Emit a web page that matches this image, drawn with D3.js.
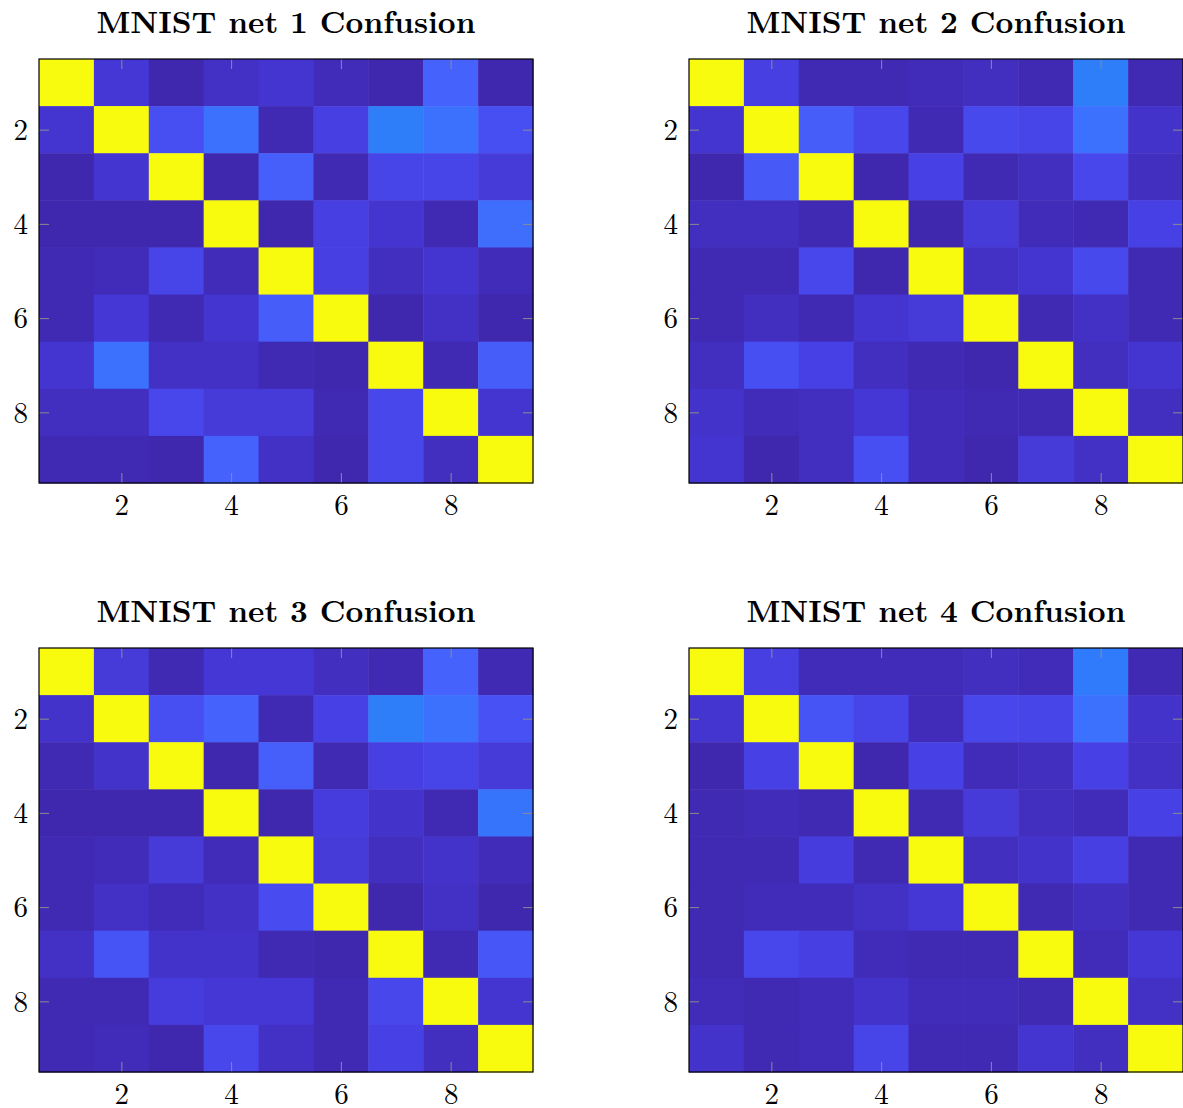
<!DOCTYPE html>
<meta charset="utf-8">

<!-- Load d3.js -->
<script src="https://d3js.org/d3.v7.min.js"></script>

<style>
  body { margin: 0; background: #fff; }
  text { font-family: "Latin Modern Roman", "CMU Serif", "Liberation Serif", serif; }
</style>

<div id="confusion"></div>

<script>

  // class labels on both axes (digits 1..9) and the ticks that are labelled
  var classes = [1, 2, 3, 4, 5, 6, 7, 8, 9];
  var tickValues = [2, 4, 6, 8];
  var titles = ["MNIST net 1 Confusion", "MNIST net 2 Confusion",
                "MNIST net 3 Confusion", "MNIST net 4 Confusion"];

  // normalised confusion values, row = true class, column = predicted class
  var net1 = [
    [1.00, 0.08, 0.01, 0.05, 0.07, 0.03, 0.01, 0.24, 0.01],
    [0.07, 1.00, 0.17, 0.29, 0.02, 0.11, 0.33, 0.29, 0.17],
    [0.01, 0.07, 1.00, 0.01, 0.23, 0.02, 0.13, 0.13, 0.09],
    [0.01, 0.01, 0.01, 1.00, 0.01, 0.11, 0.07, 0.02, 0.28],
    [0.02, 0.03, 0.13, 0.03, 1.00, 0.11, 0.04, 0.07, 0.03],
    [0.02, 0.08, 0.02, 0.07, 0.22, 1.00, 0.01, 0.05, 0.01],
    [0.07, 0.29, 0.05, 0.05, 0.02, 0.01, 1.00, 0.02, 0.22],
    [0.04, 0.04, 0.14, 0.09, 0.09, 0.02, 0.14, 1.00, 0.07],
    [0.02, 0.02, 0.01, 0.24, 0.05, 0.01, 0.14, 0.04, 1.00]
  ];
  var net2 = [
    [1.00, 0.11, 0.02, 0.02, 0.03, 0.04, 0.02, 0.33, 0.02],
    [0.07, 1.00, 0.22, 0.14, 0.02, 0.15, 0.13, 0.29, 0.06],
    [0.01, 0.21, 1.00, 0.01, 0.12, 0.02, 0.04, 0.14, 0.04],
    [0.04, 0.04, 0.02, 1.00, 0.01, 0.09, 0.03, 0.02, 0.12],
    [0.02, 0.02, 0.14, 0.01, 1.00, 0.05, 0.07, 0.15, 0.02],
    [0.02, 0.04, 0.02, 0.07, 0.09, 1.00, 0.02, 0.05, 0.02],
    [0.04, 0.17, 0.12, 0.04, 0.02, 0.01, 1.00, 0.04, 0.07],
    [0.06, 0.03, 0.04, 0.08, 0.03, 0.02, 0.02, 1.00, 0.04],
    [0.07, 0.01, 0.04, 0.17, 0.03, 0.01, 0.09, 0.05, 1.00]
  ];
  var net3 = [
    [1.00, 0.09, 0.02, 0.08, 0.08, 0.04, 0.02, 0.24, 0.02],
    [0.06, 1.00, 0.17, 0.24, 0.02, 0.12, 0.33, 0.29, 0.18],
    [0.02, 0.06, 1.00, 0.01, 0.23, 0.02, 0.11, 0.13, 0.09],
    [0.01, 0.01, 0.01, 1.00, 0.01, 0.10, 0.06, 0.02, 0.30],
    [0.02, 0.03, 0.09, 0.03, 1.00, 0.09, 0.04, 0.06, 0.03],
    [0.02, 0.05, 0.03, 0.05, 0.16, 1.00, 0.01, 0.05, 0.01],
    [0.05, 0.19, 0.06, 0.06, 0.02, 0.01, 1.00, 0.02, 0.20],
    [0.02, 0.02, 0.10, 0.08, 0.08, 0.02, 0.14, 1.00, 0.07],
    [0.02, 0.03, 0.01, 0.14, 0.05, 0.02, 0.12, 0.04, 1.00]
  ];
  var net4 = [
    [1.00, 0.11, 0.03, 0.03, 0.03, 0.04, 0.03, 0.32, 0.02],
    [0.07, 1.00, 0.19, 0.13, 0.03, 0.14, 0.13, 0.29, 0.06],
    [0.01, 0.12, 1.00, 0.01, 0.12, 0.03, 0.04, 0.12, 0.05],
    [0.02, 0.03, 0.02, 1.00, 0.02, 0.09, 0.04, 0.03, 0.12],
    [0.02, 0.02, 0.10, 0.02, 1.00, 0.04, 0.06, 0.11, 0.02],
    [0.02, 0.03, 0.03, 0.05, 0.08, 1.00, 0.02, 0.04, 0.02],
    [0.02, 0.14, 0.11, 0.03, 0.02, 0.02, 1.00, 0.03, 0.08],
    [0.03, 0.02, 0.03, 0.06, 0.03, 0.03, 0.02, 1.00, 0.05],
    [0.06, 0.02, 0.03, 0.13, 0.02, 0.02, 0.07, 0.04, 1.00]
  ];
  var matrices = [net1, net2, net3, net4];

  // parula-like colormap
  var parulaStops = [0, 0.04, 0.08, 0.12, 0.16, 0.20, 0.24, 0.28, 0.32, 0.40, 0.50, 0.60, 0.70, 0.80, 0.90, 1];
  var parulaColors = ["#3e26a8", "#422ebf", "#4537d5", "#4741e5", "#484cf0", "#4757f7",
                      "#4562fc", "#3f6efd", "#2f7bfb", "#1e92e6", "#14b5bd", "#4cc38c",
                      "#a5be6b", "#e6b950", "#fcce2e", "#f9fb0e"];
  var color = d3.scaleLinear().domain(parulaStops).range(parulaColors);

  // figure layout
  var W = 1183, H = 1108;
  var plotW = 494, plotH = 424;
  var origins = [[39, 59], [689, 59], [39, 648], [689, 648]];

  var svg = d3.select("#confusion")
    .append("svg")
    .attr("width", W)
    .attr("height", H);

  var x = d3.scaleLinear().domain([0.5, 9.5]).range([0, plotW]);
  var y = d3.scaleLinear().domain([0.5, 9.5]).range([0, plotH]);

  matrices.forEach(function (m, k) {
    var g = svg.append("g")
      .attr("transform", "translate(" + origins[k][0] + "," + origins[k][1] + ")");

    // cells
    var cells = [];
    m.forEach(function (row, i) {
      row.forEach(function (v, j) {
        cells.push({ r: classes[i], c: classes[j], v: v });
      });
    });
    g.selectAll("rect.cell")
      .data(cells)
      .enter()
      .append("rect")
      .attr("class", "cell")
      .attr("x", function (d) { return x(d.c - 0.5); })
      .attr("y", function (d) { return y(d.r - 0.5); })
      .attr("width", x(1.5) - x(0.5) + 0.5)
      .attr("height", y(1.5) - y(0.5) + 0.5)
      .attr("fill", function (d) { return color(d.v); });

    // axes, ticks pointing inward
    var bottom = g.append("g")
      .attr("transform", "translate(0," + plotH + ")")
      .call(d3.axisBottom(x).tickValues(tickValues).tickSize(-10).tickSizeOuter(0));
    bottom.selectAll("text").attr("y", 32).attr("dy", 0);

    var left = g.append("g")
      .call(d3.axisLeft(y).tickValues(tickValues).tickSize(-10).tickSizeOuter(0).tickPadding(11));
    left.selectAll("text").attr("dy", "0.34em");

    g.append("g")
      .call(d3.axisTop(x).tickValues(tickValues).tickSize(-10).tickSizeOuter(0).tickFormat(""));
    g.append("g")
      .attr("transform", "translate(" + plotW + ",0)")
      .call(d3.axisRight(y).tickValues(tickValues).tickSize(-10).tickSizeOuter(0).tickFormat(""));

    g.selectAll(".domain").remove();
    g.selectAll(".tick line").attr("stroke", "#8c8c8c").attr("stroke-width", 1);
    g.selectAll(".tick text")
      .attr("fill", "#000")
      .style("font-size", "29px")
      .style("font-family", '"Latin Modern Roman", "CMU Serif", "Liberation Serif", serif');

    // frame
    g.append("rect")
      .attr("x", 0)
      .attr("y", 0)
      .attr("width", plotW)
      .attr("height", plotH)
      .attr("fill", "none")
      .attr("stroke", "#000")
      .attr("stroke-width", 1.2);

    // title
    g.append("text")
      .attr("x", plotW / 2)
      .attr("y", -26)
      .attr("text-anchor", "middle")
      .attr("textLength", 379)
      .attr("lengthAdjust", "spacingAndGlyphs")
      .style("font-size", "31px")
      .style("font-weight", "bold")
      .text(titles[k]);
  });

</script>
